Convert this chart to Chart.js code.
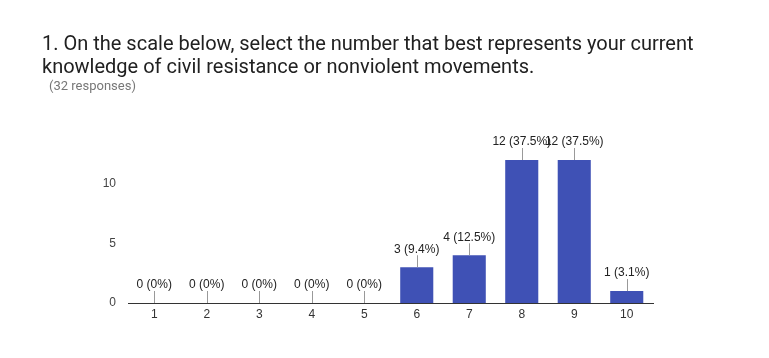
<!DOCTYPE html>
<html>
<head>
<meta charset="utf-8">
<script src="https://cdn.jsdelivr.net/npm/chart.js@4.4.0/dist/chart.umd.min.js"></script>
<style>
  html, body { margin: 0; padding: 0; background: #fff; }
  #wrap { position: relative; width: 769px; height: 358px; overflow: hidden; }
  #title { position: absolute; left: 42px; top: 32px; font-family: Roboto, sans-serif; font-size: 20px; line-height: 23px; color: #212121; }
  #sub { position: absolute; left: 49px; top: 78px; font-family: Roboto, sans-serif; font-size: 13px; color: #777; }
  canvas { position: absolute; left: 0; top: 0; }
</style>
</head>
<body>
<div id="wrap">
  <canvas id="c" width="769" height="358"></canvas>
  <div id="title">1. On the scale below, select the number that best represents your current<br>knowledge of civil resistance or nonviolent movements.</div>
  <div id="sub">(32 responses)</div>
</div>
<script>
const categories = ["1", "2", "3", "4", "5", "6", "7", "8", "9", "10"];
const counts = [0, 0, 0, 0, 0, 3, 4, 12, 12, 1];
const labels = ["0 (0%)", "0 (0%)", "0 (0%)", "0 (0%)", "0 (0%)", "3 (9.4%)", "4 (12.5%)", "12 (37.5%)", "12 (37.5%)", "1 (3.1%)"];
const yTicks = [0, 5, 10];

const valueLabels = {
  id: 'valueLabels',
  afterDatasetsDraw(chart) {
    const ctx = chart.ctx;
    const meta = chart.getDatasetMeta(0);
    ctx.save();
    ctx.font = '12px "Liberation Sans", Arial, sans-serif';
    ctx.textAlign = 'center';
    ctx.textBaseline = 'middle';
    meta.data.forEach((bar, i) => {
      const x = Math.round(bar.x) + 0.5;
      const top = bar.y;
      ctx.strokeStyle = '#999';
      ctx.lineWidth = 1;
      ctx.beginPath();
      ctx.moveTo(x, top);
      ctx.lineTo(x, top - 12);
      ctx.stroke();
      ctx.fillStyle = '#222';
      ctx.fillText(labels[i], bar.x, top - 18);
    });
    ctx.restore();
  }
};

new Chart(document.getElementById('c'), {
  type: 'bar',
  data: {
    labels: categories,
    datasets: [{
      data: counts,
      backgroundColor: '#3f51b5',
      borderWidth: 0,
      barPercentage: 0.63,
      categoryPercentage: 1.0
    }]
  },
  options: {
    responsive: false,
    animation: false,
    layout: { padding: { left: 0, right: 116, top: 160, bottom: 35 } },
    plugins: { legend: { display: false }, tooltip: { enabled: false } },
    scales: {
      x: {
        grid: { display: false, drawTicks: false },
        border: { display: true, color: '#333', width: 1 },
        ticks: { color: '#333', padding: 4, font: { family: '"Liberation Sans", Arial, sans-serif', size: 12 } },
        afterFit(s) { s.height = 20; }
      },
      y: {
        min: 0, max: 12,
        grid: { display: false, drawTicks: false },
        border: { display: false },
        afterBuildTicks(s) { s.ticks = yTicks.map(v => ({ value: v })); },
        ticks: { color: '#444', padding: 12, font: { family: '"Liberation Sans", Arial, sans-serif', size: 12 } },
        afterFit(s) { s.width = 128; }
      }
    }
  },
  plugins: [valueLabels]
});
</script>
</body>
</html>
